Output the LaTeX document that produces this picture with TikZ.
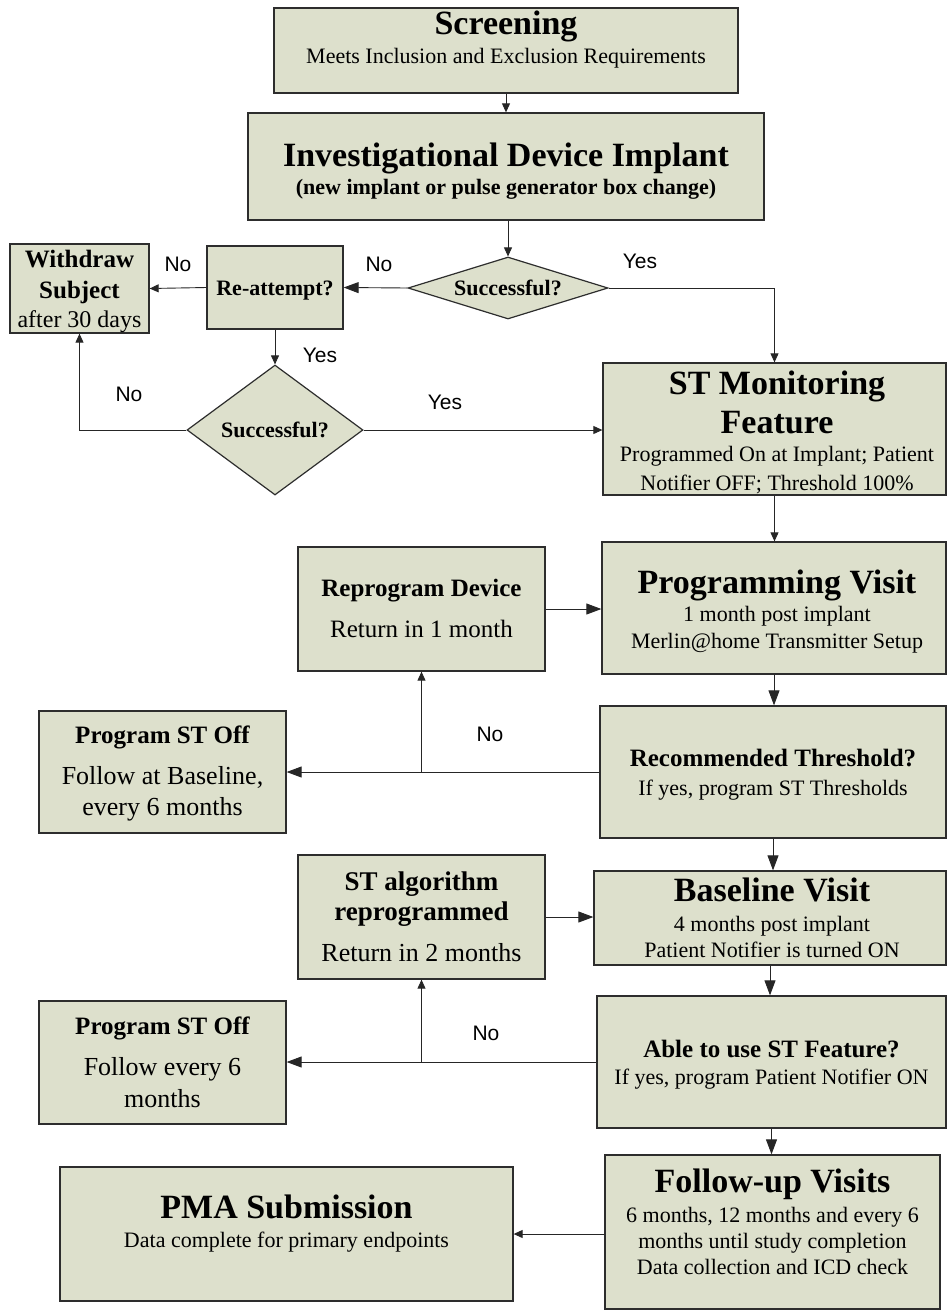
\documentclass[tikz,border=0pt]{standalone}
\usepackage{fontspec}
\setmainfont{Liberation Serif}
\newfontfamily\lblfont{Liberation Sans}
\usetikzlibrary{arrows.meta,shapes.geometric}
\definecolor{boxfill}{RGB}{221,224,204}
\definecolor{boxline}{RGB}{45,45,45}
\begin{document}
\begin{tikzpicture}[x=1pt,y=-1pt,
  box/.style={draw=boxline, fill=boxfill, line width=1.3pt, rectangle, inner sep=0pt},
  dia/.style={draw=boxline, fill=boxfill, line width=1.2pt, diamond, inner sep=0pt},
  tb/.style={anchor=base, inner sep=0pt, font=\fontsize{#1}{#1}\selectfont\bfseries},
  tr/.style={anchor=base, inner sep=0pt, font=\fontsize{#1}{#1}\selectfont},
  lbl/.style={inner sep=0pt, font=\lblfont\fontsize{21}{21}\selectfont},
  conn/.style={draw=black!85, line width=0.9pt},
  arr/.style={conn, -{Triangle[length=9pt,width=8pt]}},
  arrbig/.style={conn, -{Triangle[length=15pt,width=11pt]}}]
\useasboundingbox (0,0) rectangle (947,1310);
\fill[white] (0,0) rectangle (947,1310);

% boxes
\node[box, minimum width=464, minimum height=85] (scr) at (506,50.5) {};
\node[box, minimum width=516, minimum height=107] (inv) at (506,166.5) {};
\node[dia, minimum width=200, minimum height=62] (d1) at (508,288) {};
\node[box, minimum width=136, minimum height=83] (re) at (275,287.5) {};
\node[box, minimum width=139, minimum height=89] (wd) at (79.5,288.5) {};
\node[dia, minimum width=176, minimum height=130] (d2) at (275,430) {};
\node[box, minimum width=343, minimum height=132] (st) at (774.5,429) {};
\node[box, minimum width=344, minimum height=132] (pv) at (774,608) {};
\node[box, minimum width=247, minimum height=124] (rp) at (421.5,609) {};
\node[box, minimum width=247, minimum height=122] (ps1) at (162.5,772) {};
\node[box, minimum width=346, minimum height=132] (rt) at (773,772) {};
\node[box, minimum width=247, minimum height=124] (sa) at (421.5,917) {};
\node[box, minimum width=352, minimum height=94] (bv) at (770,918) {};
\node[box, minimum width=247, minimum height=123] (ps2) at (162.5,1062.5) {};
\node[box, minimum width=349, minimum height=132] (ab) at (771.5,1062) {};
\node[box, minimum width=335, minimum height=154] (fu) at (772.5,1232) {};
\node[box, minimum width=453, minimum height=134] (pma) at (286.5,1234) {};

% texts
\node[tb=34] (scr1) at (506,34) {Screening};
\node[tr=22] (scr2) at (506,63) {Meets Inclusion and Exclusion Requirements};
\node[tb=34] (inv1) at (506,166) {Investigational Device Implant};
\node[tb=22] (inv2) at (506,194) {(new implant or pulse generator box change)};
\node[tb=22] (d1t) at (508,295) {Successful?};
\node[tb=22] (ret) at (275,295) {Re-attempt?};
\node[tb=25] (wd1) at (79.5,267) {Withdraw};
\node[tb=25] (wd2) at (79.5,298) {Subject};
\node[tr=24] (wd3) at (79.5,327) {after 30 days};
\node[tb=22] (d2t) at (275,437) {Successful?};
\node[tb=34] (st1) at (777,394) {ST Monitoring};
\node[tb=34] (st2) at (777,433) {Feature};
\node[tr=22] (st3) at (777,461) {Programmed On at Implant; Patient};
\node[tr=22] (st4) at (777,490) {Notifier OFF; Threshold 100\%};
\node[tb=34] (pv1) at (777,593) {Programming Visit};
\node[tr=22] (pv2) at (777,621) {1 month post implant};
\node[tr=22] (pv3) at (777,648) {Merlin@home Transmitter Setup};
\node[tb=25] (rp1) at (421.5,596) {Reprogram Device};
\node[tr=25] (rp2) at (421.5,637) {Return in 1 month};
\node[tb=25] (ps11) at (162.5,743) {Program ST Off};
\node[tr=26] (ps12) at (162.5,784) {Follow at Baseline,};
\node[tr=26] (ps13) at (162.5,815) {every 6 months};
\node[tb=25] (rt1) at (773,766) {Recommended Threshold?};
\node[tr=22] (rt2) at (773,795) {If yes, program ST Thresholds};
\node[tb=27] (sa1) at (421.5,890) {ST algorithm};
\node[tb=27] (sa2) at (421.5,920) {reprogrammed};
\node[tr=26] (sa3) at (421.5,961) {Return in 2 months};
\node[tb=34] (bv1) at (772,901) {Baseline Visit};
\node[tr=22] (bv2) at (772,931) {4 months post implant};
\node[tr=22] (bv3) at (772,957) {Patient Notifier is turned ON};
\node[tb=25] (ps21) at (162.5,1034) {Program ST Off};
\node[tr=26] (ps22) at (162.5,1075) {Follow every 6};
\node[tr=26] (ps23) at (162.5,1107) {months};
\node[tb=25] (ab1) at (771.5,1057) {Able to use ST Feature?};
\node[tr=22] (ab2) at (771.5,1084) {If yes, program Patient Notifier ON};
\node[tb=34] (fu1) at (772.5,1192) {Follow-up Visits};
\node[tr=22] (fu2) at (772.5,1222) {6 months, 12 months and every 6};
\node[tr=22] (fu3) at (772.5,1248) {months until study completion};
\node[tr=22] (fu4) at (772.5,1274) {Data collection and ICD check};
\node[tb=34] (pma1) at (286.5,1218) {PMA Submission};
\node[tr=22] (pma2) at (286.5,1247) {Data complete for primary endpoints};

% labels
\node[lbl] (l1) at (178,264) {No};
\node[lbl] (l2) at (379,264) {No};
\node[lbl] (l3) at (640,261) {Yes};
\node[lbl] (l4) at (320,355) {Yes};
\node[lbl] (l5) at (129,394) {No};
\node[lbl] (l6) at (445,402) {Yes};
\node[lbl] (l7) at (490,734) {No};
\node[lbl] (l8) at (486,1033) {No};

% connectors
\draw[arr] (scr.south) -- (inv.north);
\draw[arr] (inv.south -| d1.north) -- (d1.north);
\draw[arrbig] (d1.west) -- (re.east);
\draw[arr] (re.west) -- (wd.east);
\draw[arr] (re.south) -- (d2.north);
\draw[arr] (d2.west) -| (wd.south);
\draw[arr] (d2.east) -- (st.west |- d2.east);
\draw[arr] (d1.east) -| (st.north);
\draw[arr] (st.south) -- (st.south |- pv.north);
\draw[arrbig] (rp.east) -- (pv.west |- rp.east);
\draw[arrbig] (pv.south) -- (pv.south |- rt.north);
\draw[arrbig] (rt.west) -- (ps1.east |- rt.west);
\coordinate (br1) at (rp.south |- rt.west);
\draw[arr] (br1) -- (rp.south);
\draw[arrbig] (rt.south) -- (rt.south |- bv.north);
\draw[arrbig] (sa.east) -- (bv.west |- sa.east);
\draw[arrbig] (bv.south) -- (bv.south |- ab.north);
\draw[arrbig] (ab.west) -- (ps2.east |- ab.west);
\coordinate (br2) at (sa.south |- ab.west);
\draw[arr] (br2) -- (sa.south);
\draw[arrbig] (ab.south) -- (ab.south |- fu.north);
\draw[arr] (fu.west |- pma.east) -- (pma.east);
\end{tikzpicture}
\end{document}
